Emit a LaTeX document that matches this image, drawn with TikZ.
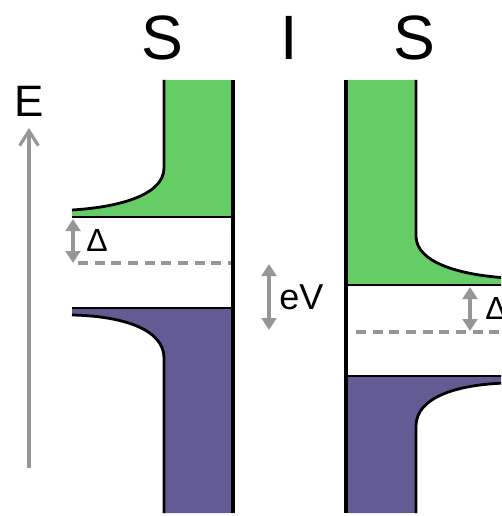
\documentclass[tikz,border=0pt]{standalone}
\usepackage{fontspec}
\setmainfont{Liberation Sans}
\usetikzlibrary{arrows.meta}
\definecolor{sisgreen}{RGB}{102,204,102}
\definecolor{sispurple}{RGB}{99,91,148}
\definecolor{sisgray}{RGB}{150,150,150}

\begin{document}
\begin{tikzpicture}[
    x=0.75pt, y=-0.75pt,
    edge/.style={line width=2.1pt, draw=black},
    wall/.style={line width=3.6pt, draw=black},
    level/.style={line width=2.4pt, draw=sisgray, dash pattern=on 7.5pt off 5pt},
    gaparrow/.style={{Triangle[width=11pt,length=9pt]}-{Triangle[width=11pt,length=9pt]}, line width=2.4pt, draw=sisgray},
    axisarrow/.style={-{Straight Barb[width=14pt,length=11pt]}, line width=2.4pt, draw=sisgray},
    title/.style={font=\fontsize{47}{47}\selectfont},
    label/.style={font=\fontsize{27}{27}\selectfont, anchor=west, inner sep=0pt}
]
\useasboundingbox (0,0) rectangle (501,516);

% Layer titles
\node[title] (sleft) at (162,38) {S};
\node[title] (ins) at (289,38) {I};
\node[title] (sright) at (414,38) {S};

% Energy axis
\node[font=\fontsize{33}{33}\selectfont] (energy) at (29,101) {E};
\coordinate (ebot) at (29,468);
\coordinate (etop) at (29,128);
\draw[axisarrow] (ebot) -- (etop);

\begin{scope}
\clip (0,0) rectangle (501,516);

% Left superconductor
\fill[sisgreen] (164,80) -- (164,168) .. controls (164,194) and (122,207) .. (72,210)
    -- (72,217) -- (233,217) -- (233,80) -- cycle;
\draw[edge] (164,80) -- (164,168) .. controls (164,194) and (122,207) .. (72,210);
\draw[edge] (72,217) -- (233,217);
\fill[sispurple] (72,308) -- (233,308) -- (233,513) -- (164,513) -- (164,358)
    .. controls (164,329) and (122,316) .. (72,315) -- cycle;
\draw[edge] (72,308) -- (233,308);
\draw[edge] (72,315) .. controls (122,316) and (164,329) .. (164,358) -- (164,513);
\draw[level] (78,263) -- (232,263);

% Right superconductor (shifted by eV)
\fill[sisgreen] (347,80) -- (416,80) -- (416,236) .. controls (416,262) and (458,275) .. (508,278)
    -- (508,285) -- (347,285) -- cycle;
\draw[edge] (416,80) -- (416,236) .. controls (416,262) and (458,275) .. (508,278);
\draw[edge] (347,285) -- (508,285);
\fill[sispurple] (347,376) -- (508,376) -- (508,383) .. controls (458,384) and (416,397) .. (416,426)
    -- (416,513) -- (347,513) -- cycle;
\draw[edge] (347,376) -- (508,376);
\draw[edge] (508,383) .. controls (458,384) and (416,397) .. (416,426) -- (416,513);
\draw[level] (356,332) -- (508,332);
\end{scope}

% Barrier walls
\draw[wall] (233,80) -- (233,513);
\draw[wall] (346,80) -- (346,513);

% Gaps and bias
\coordinate (gapltop) at (73,219);
\coordinate (gaplbot) at (73,263);
\draw[gaparrow] (gapltop) -- (gaplbot);
\node[label, font=\fontsize{24}{24}\selectfont] (deltal) at (86,240) {Δ};

\coordinate (gaprtop) at (470,287);
\coordinate (gaprbot) at (470,331);
\draw[gaparrow] (gaprtop) -- (gaprbot);
\node[label, font=\fontsize{24}{24}\selectfont] (deltar) at (485,308) {Δ};

\coordinate (biastop) at (269,264);
\coordinate (biasbot) at (269,330);
\draw[gaparrow] (biastop) -- (biasbot);
\node[label] (bias) at (279,297) {eV};

\end{tikzpicture}
\end{document}
